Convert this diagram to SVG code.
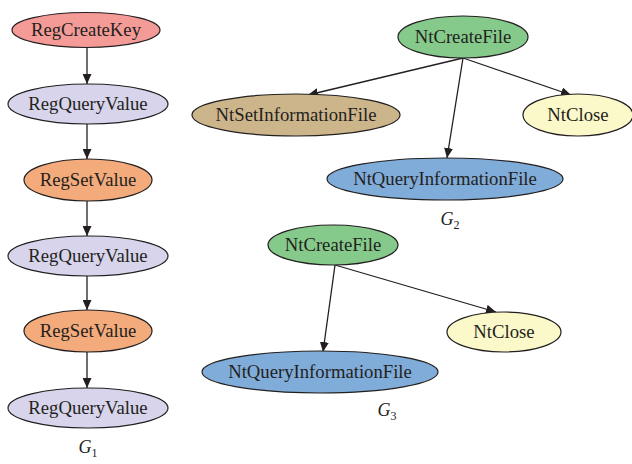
<svg xmlns="http://www.w3.org/2000/svg" width="632" height="464" viewBox="0 0 632 464">
<style>
.n ellipse{stroke:#231f20;stroke-width:1.2}
.n text{font-family:"Liberation Serif","Times New Roman",serif;font-size:18.7px;fill:#231f20;text-anchor:middle}
.lbl{font-family:"Liberation Serif","Times New Roman",serif;font-size:18px;fill:#231f20;text-anchor:middle}
.e line{stroke:#231f20;stroke-width:1.3;marker-end:url(#ah)}
.red{fill:#f49b98}.lav{fill:#d7d4eb}.org{fill:#f4ab7b}.grn{fill:#86ca8b}.tan{fill:#cdb58b}.yel{fill:#fbf8c9}.blu{fill:#80acd9}
</style>
<defs>
<marker id="ah" markerUnits="userSpaceOnUse" markerWidth="11" markerHeight="9" refX="10" refY="4.5" orient="auto">
<path d="M0,0 L10,4.5 L0,9 z" fill="#231f20"/>
</marker>
</defs>
<g id="connectors" class="e">
<line x1="87" y1="47" x2="87" y2="84"/>
<line x1="87" y1="124" x2="87" y2="159"/>
<line x1="87" y1="201" x2="87" y2="236"/>
<line x1="87" y1="276" x2="87" y2="310"/>
<line x1="87" y1="352" x2="87" y2="388"/>
<line x1="463" y1="58" x2="308" y2="95"/>
<line x1="463" y1="58" x2="447" y2="158"/>
<line x1="463" y1="58" x2="571" y2="95"/>
<line x1="335" y1="265" x2="323" y2="352"/>
<line x1="335" y1="265" x2="496" y2="312"/>
</g>
<g id="g1-n1" class="n"><ellipse class="red" cx="86" cy="30" rx="74" ry="17.5"/><text x="86" y="36">RegCreateKey</text></g>
<g id="g1-n2" class="n"><ellipse class="lav" cx="88" cy="104" rx="80" ry="20"/><text x="88" y="110">RegQueryValue</text></g>
<g id="g1-n3" class="n"><ellipse class="org" cx="88" cy="180" rx="64" ry="21"/><text x="88" y="186">RegSetValue</text></g>
<g id="g1-n4" class="n"><ellipse class="lav" cx="88" cy="256" rx="80" ry="20"/><text x="88" y="262">RegQueryValue</text></g>
<g id="g1-n5" class="n"><ellipse class="org" cx="88" cy="331" rx="64" ry="21"/><text x="88" y="337">RegSetValue</text></g>
<g id="g1-n6" class="n"><ellipse class="lav" cx="88" cy="408" rx="80" ry="20"/><text x="88" y="414">RegQueryValue</text></g>
<text class="lbl" x="88" y="453"><tspan font-style="italic">G</tspan><tspan font-size="12" dy="4">1</tspan></text>
<g id="g2-create" class="n"><ellipse class="grn" cx="463" cy="37" rx="65" ry="21"/><text x="463" y="43">NtCreateFile</text></g>
<g id="g2-set" class="n"><ellipse class="tan" cx="296" cy="115" rx="104" ry="21"/><text x="296" y="121">NtSetInformationFile</text></g>
<g id="g2-close" class="n"><ellipse class="yel" cx="578" cy="115" rx="55" ry="21"/><text x="578" y="121">NtClose</text></g>
<g id="g2-query" class="n"><ellipse class="blu" cx="445" cy="179" rx="118" ry="21"/><text x="445" y="185">NtQueryInformationFile</text></g>
<text class="lbl" x="450" y="225"><tspan font-style="italic">G</tspan><tspan font-size="12" dy="4">2</tspan></text>
<g id="g3-create" class="n"><ellipse class="grn" cx="333" cy="245" rx="65" ry="20"/><text x="333" y="251">NtCreateFile</text></g>
<g id="g3-close" class="n"><ellipse class="yel" cx="504" cy="332" rx="57" ry="20"/><text x="504" y="338">NtClose</text></g>
<g id="g3-query" class="n"><ellipse class="blu" cx="320" cy="372" rx="118" ry="21"/><text x="320" y="378">NtQueryInformationFile</text></g>
<text class="lbl" x="387" y="416"><tspan font-style="italic">G</tspan><tspan font-size="12" dy="4">3</tspan></text>
</svg>
